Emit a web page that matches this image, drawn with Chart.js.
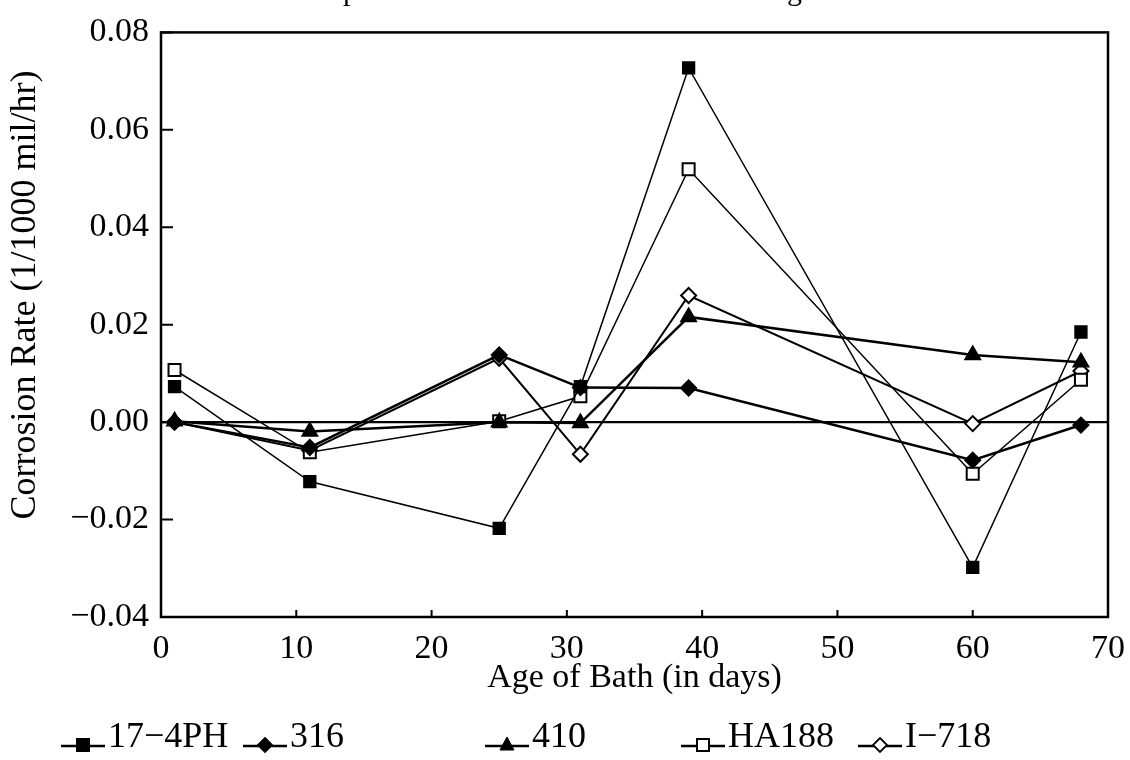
<!DOCTYPE html>
<html>
<head>
<meta charset="utf-8">
<script src="https://cdn.jsdelivr.net/npm/chart.js@4.4.0/dist/chart.umd.min.js"></script>
<style>
  html, body { margin: 0; padding: 0; background: #fff; }
  #wrap { position: relative; width: 1130px; height: 760px; overflow: hidden; }
  #title { position: absolute; top: -25px; left: 60px; width: 1130px; text-align: center;
           font: 30px "Liberation Serif", serif; line-height: 30px; color: #000; }
  .item { position: absolute; top: 714px; font: 36px "Liberation Serif", serif; line-height: 42px;
          white-space: nowrap; color: #000; }
  .item svg { position: absolute; top: 21px; }
  .item span { position: absolute; top: 0; }
</style>
</head>
<body>
<div id="wrap">
  <canvas id="chart" width="1130" height="760"></canvas>
  <div id="title">Comparison of Corrosion Rates Bath using Basic Metals</div>
  <div id="legend"></div>
</div>
<script>
// data
const days = [1, 11, 25, 31, 39, 60, 68];
const seriesNames = ['17\u22124PH', '316', '410', 'HA188', 'I\u2212718'];
const ph174 = [0.0073, -0.0122, -0.0218, 0.0073, 0.0727, -0.0298, 0.0185];
const s316 = [0.0000, -0.0052, 0.0138, 0.0071, 0.0070, -0.0078, -0.0006];
const s410 = [0.0002, -0.0019, 0.0000, -0.0002, 0.0216, 0.0138, 0.0123];
const ha188 = [0.0107, -0.0062, 0.0002, 0.0053, 0.0519, -0.0106, 0.0087];
const i718 = [0.0000, -0.0058, 0.0131, -0.0066, 0.0260, -0.0003, 0.0105];
const yTicks = [-0.04, -0.02, 0.00, 0.02, 0.04, 0.06, 0.08];
const yTitle = 'Corrosion Rate (1/1000 mil/hr)';

// legend text left edges
const legendText = [108, 290, 532, 728, 905];

function pts(vals) {
    return days.map((d, i) => ({ x: d, y: vals[i] }));
}

const styles = [
    { vals: ph174, shape: 'rect', fill: '#000', r: 8, w: 1.5 },
    { vals: s316, shape: 'rectRot', fill: '#000', r: 7.5, w: 2.5 },
    { vals: s410, shape: 'triangle', fill: '#000', r: 8.5, w: 2.5 },
    { vals: ha188, shape: 'rect', fill: '#fff', r: 8.5, w: 1.5 },
    { vals: i718, shape: 'rectRot', fill: '#fff', r: 7.5, w: 2 }
];

const datasets = styles.map((s, i) => ({
    label: seriesNames[i],
    data: pts(s.vals),
    borderColor: '#000',
    borderWidth: s.w,
    pointStyle: s.shape,
    pointRadius: s.r,
    pointBackgroundColor: s.fill,
    pointBorderColor: '#000',
    pointBorderWidth: 2,
    tension: 0,
    fill: false
}));

const font = { family: '"Liberation Serif", serif', size: 34 };

// box round the plot, inward tick marks, y title
const frame = {
    id: 'frame',
    afterDraw(chart) {
        const { ctx, chartArea: a, scales: { x, y } } = chart;
        ctx.save();
        ctx.strokeStyle = '#000';
        ctx.lineWidth = 2.5;
        ctx.strokeRect(a.left, a.top, a.right - a.left, a.bottom - a.top);
        ctx.lineWidth = 2;
        ctx.beginPath();
        y.ticks.forEach(t => {
            const py = y.getPixelForValue(t.value);
            ctx.moveTo(a.left, py);
            ctx.lineTo(a.left + 12, py);
        });
        x.ticks.forEach(t => {
            const px = x.getPixelForValue(t.value);
            ctx.moveTo(px, a.bottom);
            ctx.lineTo(px, a.bottom - 7);
        });
        ctx.stroke();

        ctx.translate(26, 295);
        ctx.rotate(-Math.PI / 2);
        ctx.fillStyle = '#000';
        ctx.font = '36px "Liberation Serif", serif';
        ctx.textAlign = 'center';
        ctx.textBaseline = 'middle';
        ctx.fillText(yTitle, 0, 0);
        ctx.restore();
    }
};

new Chart(document.getElementById('chart'), {
    type: 'line',
    data: { datasets: datasets },
    options: {
        responsive: false,
        animation: false,
        layout: { padding: { top: 27, right: 22, bottom: 60, left: 0 } },
        plugins: { legend: { display: false }, tooltip: { enabled: false } },
        scales: {
            x: {
                type: 'linear', min: 0, max: 70,
                afterFit: s => { s.height = 83; },
                ticks: { stepSize: 10, color: '#000', font: font, padding: 4, maxRotation: 0 },
                grid: { display: false },
                border: { display: false },
                title: { display: true, text: 'Age of Bath (in days)', color: '#000', font: font,
                         padding: { top: 0, bottom: 2 } }
            },
            y: {
                min: -0.04, max: 0.08,
                afterFit: s => { s.width = 161; },
                afterBuildTicks: s => { s.ticks = yTicks.map(v => ({ value: v })); },
                ticks: {
                    color: '#000', font: font, padding: 12,
                    callback: v => v.toFixed(2).replace('-', '\u2212')
                },
                grid: {
                    drawTicks: false,
                    color: c => (c.tick && c.tick.value === 0 ? '#000' : 'rgba(0,0,0,0)'),
                    lineWidth: 2.2
                },
                border: { display: false }
            }
        }
    },
    plugins: [frame]
});

// legend below the axis title
function markerSvg(s) {
    const c = 22, cy = 10;
    let m = '';
    if (s.shape === 'rect') {
        m = `<rect x="${c - 6}" y="${cy - 6}" width="12" height="12" fill="${s.fill}" stroke="#000" stroke-width="2"/>`;
    } else if (s.shape === 'rectRot') {
        m = `<polygon points="${c},${cy - 7} ${c + 7},${cy} ${c},${cy + 7} ${c - 7},${cy}" fill="${s.fill}" stroke="#000" stroke-width="1.8"/>`;
    } else {
        m = `<polygon points="${c},${cy - 8} ${c + 7},${cy + 5} ${c - 7},${cy + 5}" fill="${s.fill}" stroke="#000" stroke-width="1"/>`;
    }
    return `<svg width="44" height="22"><line x1="0" y1="${cy + 1}" x2="44" y2="${cy + 1}" stroke="#000" stroke-width="2.5"/>${m}</svg>`;
}

const legend = document.getElementById('legend');
styles.forEach((s, i) => {
    const tx = legendText[i];
    const el = document.createElement('div');
    el.className = 'item';
    el.style.left = (tx - 47) + 'px';
    el.innerHTML = markerSvg(s) + `<span style="left:47px">${seriesNames[i]}</span>`;
    legend.appendChild(el);
});
</script>
</body>
</html>
